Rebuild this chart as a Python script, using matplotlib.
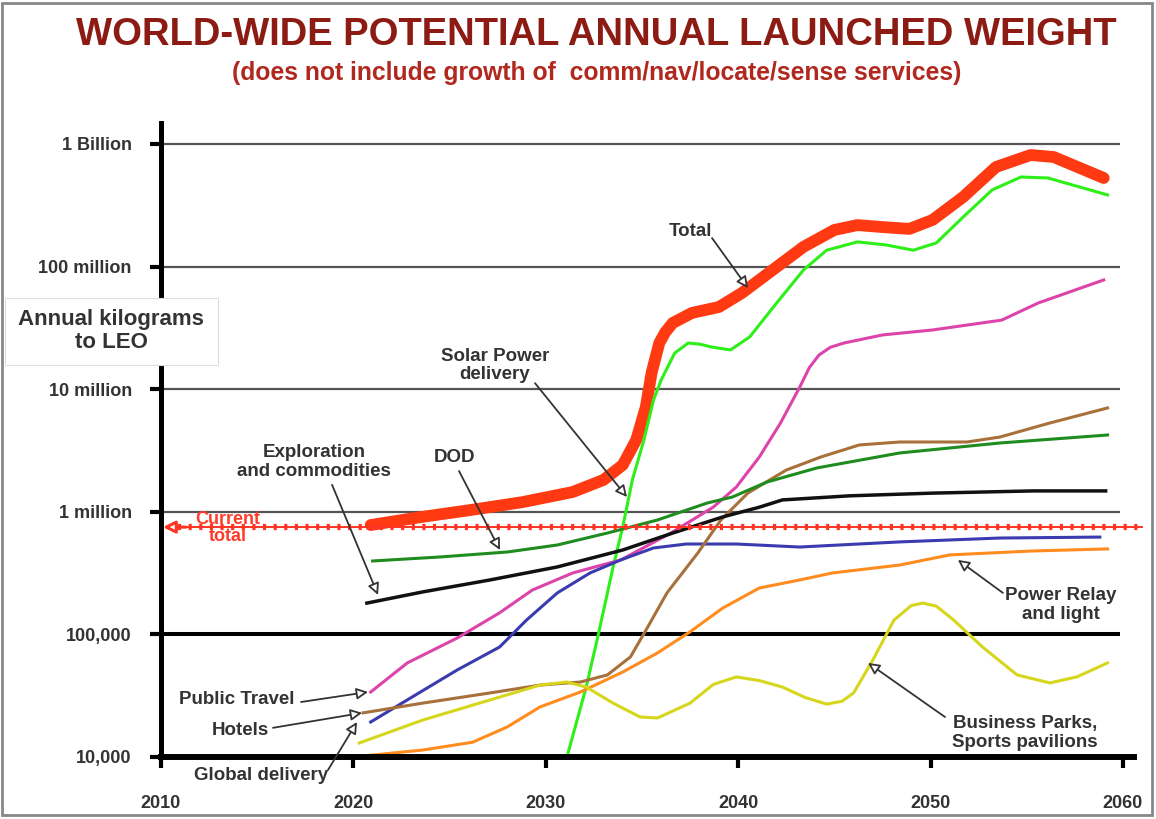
import matplotlib
matplotlib.use("Agg")
import matplotlib.pyplot as plt
from matplotlib.patches import Rectangle

plt.rcParams['font.family'] = ['Liberation Sans', 'DejaVu Sans']
plt.rcParams['font.weight'] = 'bold'

# ---------------- data (annual kg to LEO) ----------------
total_years = [2020.9, 2023.6, 2026.2, 2028.8, 2031.4, 2033.0, 2034.0, 2034.7, 2035.2, 2035.5,
               2035.9, 2036.2, 2036.6, 2037.6, 2039.0, 2040.2, 2041.8, 2043.4, 2045.0, 2046.2,
               2047.5, 2048.9, 2050.1, 2051.7, 2053.4, 2055.2, 2056.4, 2059.0]
total_vals = [7.8e5, 9.1e5, 1.04e6, 1.20e6, 1.45e6, 1.82e6, 2.41e6, 3.85e6, 7.16e6, 1.36e7,
              2.38e7, 2.9e7, 3.47e7, 4.19e7, 4.68e7, 6.10e7, 9.4e7, 1.45e8, 1.99e8, 2.18e8,
              2.10e8, 2.03e8, 2.40e8, 3.70e8, 6.49e8, 8.13e8, 7.83e8, 5.28e8]

solar_years = [2031.1, 2032.1, 2032.7, 2033.5, 2034.0, 2034.5, 2035.1, 2035.6, 2036.0, 2036.7,
               2037.4, 2038.0, 2038.6, 2039.6, 2040.6, 2042.0, 2043.4, 2044.6, 2046.2, 2047.7,
               2049.1, 2050.3, 2051.7, 2053.2, 2054.7, 2056.1, 2059.2]
solar_vals = [1.0e4, 3.72e4, 9.5e4, 3.55e5, 7.52e5, 1.82e6, 3.85e6, 8.17e6, 1.19e7, 1.97e7,
              2.38e7, 2.33e7, 2.21e7, 2.09e7, 2.67e7, 5.05e7, 9.4e7, 1.36e8, 1.59e8, 1.50e8,
              1.36e8, 1.56e8, 2.54e8, 4.22e8, 5.38e8, 5.28e8, 3.84e8]

travel_years = [2020.9, 2022.8, 2025.4, 2027.6, 2029.3, 2031.4, 2033.9, 2036.5, 2038.7, 2039.9,
                2041.1, 2042.2, 2043.2, 2043.7, 2044.2, 2044.8, 2045.5, 2047.5, 2050.1, 2053.7,
                2055.6, 2059.0]
travel_vals = [3.39e4, 5.85e4, 9.35e4, 1.50e5, 2.30e5, 3.17e5, 4.05e5, 6.71e5, 1.09e6, 1.59e6,
               2.80e6, 5.30e6, 1.04e7, 1.5e7, 1.9e7, 2.2e7, 2.38e7, 2.77e7, 3.04e7, 3.66e7,
               5.05e7, 7.78e7]

global_years = [2020.9, 2022.8, 2025.4, 2027.6, 2029.0, 2030.6, 2032.3, 2033.9, 2035.6, 2037.3,
                2039.9, 2043.2, 2048.4, 2053.6, 2058.8]
global_vals = [1.93e4, 2.92e4, 5.13e4, 7.89e4, 1.31e5, 2.18e5, 3.17e5, 4.05e5, 5.07e5, 5.46e5,
               5.46e5, 5.16e5, 5.68e5, 6.11e5, 6.22e5]

hotels_years = [2020.5, 2023.6, 2027.1, 2029.7, 2031.8, 2033.2, 2034.4, 2035.3, 2036.3, 2037.9,
                2039.1, 2040.5, 2042.5, 2044.3, 2046.3, 2048.4, 2051.9, 2053.6, 2056.2, 2059.2]
hotels_vals = [2.29e4, 2.75e4, 3.33e4, 3.86e4, 4.09e4, 4.67e4, 6.55e4, 1.15e5, 2.18e5, 4.61e5,
               8.57e5, 1.42e6, 2.19e6, 2.80e6, 3.51e6, 3.71e6, 3.71e6, 4.07e6, 5.30e6, 7.03e6]

dod_years = [2021.0, 2024.5, 2028.0, 2030.6, 2033.2, 2035.8, 2038.4, 2039.7, 2041.5, 2044.1,
             2048.4, 2053.6, 2059.2]
dod_vals = [3.97e5, 4.28e5, 4.70e5, 5.36e5, 6.71e5, 8.57e5, 1.18e6, 1.32e6, 1.75e6, 2.28e6,
            3.02e6, 3.64e6, 4.23e6]

explor_years = [2020.7, 2023.6, 2027.1, 2030.6, 2034.0, 2036.6, 2039.2, 2041.1, 2042.3, 2045.8,
                2050.1, 2055.3, 2059.1]
explor_vals = [1.80e5, 2.22e5, 2.78e5, 3.55e5, 4.88e5, 6.71e5, 9.08e5, 1.09e6, 1.25e6, 1.35e6,
               1.42e6, 1.48e6, 1.48e6]

relay_years = [2020.0, 2023.6, 2026.2, 2028.0, 2029.7, 2031.8, 2034.0, 2035.8, 2037.5, 2039.2,
               2041.1, 2043.2, 2044.9, 2048.4, 2051.0, 2055.3, 2059.2]
relay_vals = [1.0e4, 1.14e4, 1.32e4, 1.76e4, 2.56e4, 3.39e4, 4.93e4, 7.05e4, 1.05e5, 1.64e5,
              2.39e5, 2.78e5, 3.17e5, 3.68e5, 4.45e5, 4.79e5, 4.98e5]

business_years = [2020.3, 2023.6, 2027.1, 2029.7, 2031.1, 2032.1, 2033.5, 2034.9, 2035.8, 2037.5,
                  2038.7, 2039.9, 2041.1, 2042.3, 2043.5, 2044.6, 2045.4, 2046.0, 2047.0, 2048.1,
                  2049.0, 2049.6, 2050.3, 2051.2, 2052.7, 2054.5, 2056.2, 2057.6, 2059.2]
business_vals = [1.30e4, 2.00e4, 2.92e4, 3.86e4, 4.09e4, 3.72e4, 2.75e4, 2.12e4, 2.08e4, 2.75e4,
                 3.9e4, 4.5e4, 4.2e4, 3.72e4, 3.05e4, 2.7e4, 2.85e4, 3.33e4, 6.18e4, 1.31e5,
                 1.72e5, 1.80e5, 1.70e5, 1.31e5, 7.89e4, 4.67e4, 4.02e4, 4.50e4, 5.85e4]

current_total = 7.5e5
current_years = [2010.9, 2061.0]

ytick_vals = [1e4, 1e5, 1e6, 1e7, 1e8, 1e9]
ytick_labels = ['10,000', '100,000', '1 million', '10 million', '100 million', '1 Billion']
xtick_vals = [2010, 2020, 2030, 2040, 2050, 2060]

# ---------------- figure ----------------
W, H = 1156, 819
fig = plt.figure(figsize=(W / 100, H / 100), dpi=100)
fig.patch.set_facecolor('white')

ax = fig.add_axes([161 / W, 62 / H, (1134.5 - 161) / W, (757 - 123) / H])
ax.set_yscale('log')
ax.set_xlim(2010, 2060.6)
ax.set_ylim(1e4, 1.483e9)

for s in ['top', 'right']:
    ax.spines[s].set_visible(False)
ax.spines['left'].set_linewidth(3.6)
ax.spines['bottom'].set_linewidth(4.3)
ax.spines['left'].set_zorder(6)
ax.spines['bottom'].set_zorder(6)

ax.set_yticks(ytick_vals)
ax.set_yticklabels(ytick_labels)
ax.yaxis.set_minor_locator(matplotlib.ticker.NullLocator())
ax.set_xticks(xtick_vals)
ax.set_xticklabels([str(v) for v in xtick_vals])
ax.tick_params(axis='y', length=8, width=3, pad=13, labelsize=13, labelcolor='#333333')
ax.tick_params(axis='x', length=8, width=3, pad=19, labelsize=13, labelcolor='#333333')
for lab in ax.get_xticklabels() + ax.get_yticklabels():
    lab.set_fontweight('bold')

# grid lines
for v in ytick_vals[1:]:
    if v == 1e5:
        ax.hlines(v, 2010, 2059.85, color='black', lw=2.9, zorder=1)
    else:
        ax.hlines(v, 2010, 2059.85, color='#555555', lw=1.6, zorder=1)

# series
ax.plot(total_years, total_vals, color='#FF3A12', lw=8.5, solid_capstyle='round',
        solid_joinstyle='round', zorder=3)
lw = 2.2
ax.plot(solar_years, solar_vals, color='#2EEF18', lw=lw, zorder=4, solid_joinstyle='round')
ax.plot(travel_years, travel_vals, color='#DD44AA', lw=lw, zorder=4, solid_joinstyle='round')
ax.plot(global_years, global_vals, color='#3B3BAF', lw=lw, zorder=4, solid_joinstyle='round')
ax.plot(hotels_years, hotels_vals, color='#A8703A', lw=lw, zorder=4, solid_joinstyle='round')
ax.plot(dod_years, dod_vals, color='#1E8C1E', lw=lw, zorder=4, solid_joinstyle='round')
ax.plot(explor_years, explor_vals, color='#111111', lw=2.5, zorder=4, solid_joinstyle='round')
ax.plot(relay_years, relay_vals, color='#FF8C1E', lw=lw, zorder=4, solid_joinstyle='round')
ax.plot(business_years, business_vals, color='#D6D61C', lw=lw, zorder=4, solid_joinstyle='round')

# current total
ax.plot(current_years, [current_total] * 2, color='#FF3322', lw=1.4, zorder=5, clip_on=False)
ax.plot(current_years, [current_total] * 2, color='#FF3322', lw=4.5, zorder=5, clip_on=False,
        dashes=(0.5, 1.2))
ax.annotate('', xy=(2010.1, current_total), xytext=(2011.3, current_total),
            arrowprops=dict(arrowstyle='-|>', fc='white', ec='#FF3322', lw=2.2,
                            mutation_scale=18, shrinkA=0, shrinkB=0),
            annotation_clip=False, zorder=7)
ax.text(2013.45, 7.38e5, 'Current\ntotal', color='#FF3B2A', fontsize=13, fontweight='bold',
        ha='center', va='center', linespacing=0.95, zorder=7)

# annotations
acol = '#333333'
aprops = dict(arrowstyle='-|>', fc='white', ec=acol, lw=1.3, mutation_scale=17,
              shrinkA=0, shrinkB=0)


def note(text, tx, ty, sx, sy, px, py):
    ax.text(tx, ty, text, fontsize=13.5, fontweight='bold', color=acol, ha='center',
            va='center', multialignment='center', linespacing=1.1, zorder=8, clip_on=False)
    ax.annotate('', xy=(px, py), xytext=(sx, sy), arrowprops=aprops,
                annotation_clip=False, zorder=8)


note('Total', 2037.5, 1.95e8, 2038.64, 1.71e8, 2040.51, 6.68e7)
note('Solar Power\ndelivery', 2027.36, 1.57e7, 2029.44, 1.12e7, 2034.22, 1.32e6)
note('Exploration\nand commodities', 2017.95, 2.55e6, 2018.89, 1.66e6, 2021.28, 2.10e5)
note('DOD', 2025.28, 2.75e6, 2025.49, 2.15e6, 2027.62, 4.88e5)
note('Public Travel', 2013.95, 2.92e4, 2017.28, 2.81e4, 2020.76, 3.39e4)
note('Hotels', 2014.11, 1.66e4, 2015.82, 1.73e4, 2020.45, 2.29e4)
note('Global delivery', 2015.2, 7.13e3, 2018.68, 7.83e3, 2020.19, 1.93e4)
note('Power Relay\nand light', 2056.78, 1.74e5, 2053.76, 2.18e5, 2051.42, 4.05e5)
note('Business Parks,\nSports pavilions', 2054.91, 1.57e4, 2050.75, 2.12e4, 2046.75, 5.85e4)

# titles
fig.text(596.5 / W, 1 - 35 / H, 'WORLD-WIDE POTENTIAL ANNUAL LAUNCHED WEIGHT', color='#8C1C13',
         fontsize=27.5, fontweight='bold', ha='center', va='center')
fig.text(597 / W, 1 - 73 / H, '(does not include growth of  comm/nav/locate/sense services)',
         color='#B0281E', fontsize=17.8, fontweight='bold', ha='center', va='center')

# y-axis label box
fig.patches.append(Rectangle((5 / W, 1 - 365 / H), 213 / W, 67 / H, transform=fig.transFigure,
                             facecolor='white', edgecolor='#dddddd', lw=0.8, zorder=10))
fig.text(111 / W, 1 - 331 / H, 'Annual kilograms\nto LEO', color='#333333', fontsize=16,
         fontweight='bold', ha='center', va='center', linespacing=1.15, zorder=11)

# outer frame
fig.patches.append(Rectangle((2 / W, 4 / H), 1150 / W, 812 / H, transform=fig.transFigure,
                             facecolor='none', edgecolor='#888888', lw=2.0, zorder=12))

fig.savefig('out.png', dpi=100)
